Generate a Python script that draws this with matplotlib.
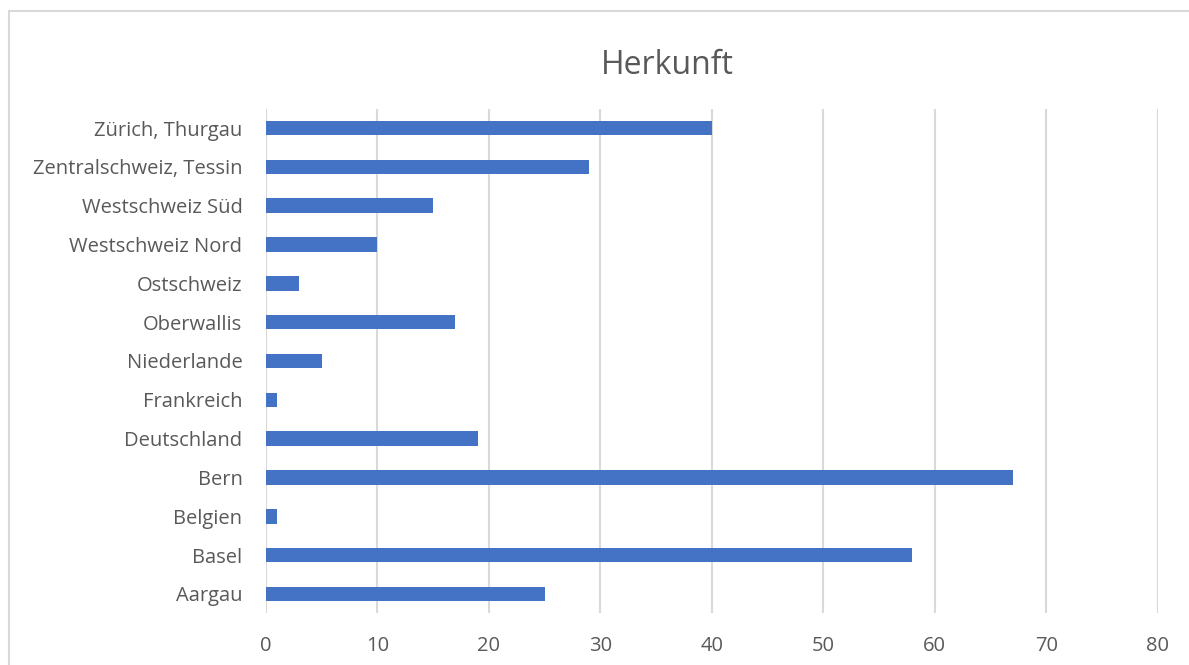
import matplotlib.pyplot as plt
from matplotlib.patches import Rectangle

regions = ["Aargau", "Basel", "Belgien", "Bern", "Deutschland", "Frankreich",
           "Niederlande", "Oberwallis", "Ostschweiz", "Westschweiz Nord",
           "Westschweiz Süd", "Zentralschweiz, Tessin", "Zürich, Thurgau"]
counts = [25, 58, 1, 67, 19, 1, 5, 17, 3, 10, 15, 29, 40]
xticks = [0, 10, 20, 30, 40, 50, 60, 70, 80]

TEXT = "#595959"
GRID = "#D9D9D9"
plt.rcParams['font.family'] = ['Open Sans', 'DejaVu Sans']

fig = plt.figure(figsize=(11.89, 6.65), dpi=100)
ax = fig.add_axes([266 / 1189, 1 - 613.4 / 665, 891.7 / 1189, 504.8 / 665])

ax.barh(range(len(regions)), counts, height=0.37, color="#4472C4", zorder=3)
ax.set_ylim(-0.5, len(regions) - 0.5)
ax.set_xlim(0, 80)
ax.set_xticks(xticks)
ax.set_yticks(range(len(regions)))
ax.set_yticklabels(regions)
ax.tick_params(length=0, labelsize=14.5, labelcolor=TEXT)
ax.tick_params(axis='x', pad=16)
ax.tick_params(axis='y', pad=17)
ax.grid(axis='x', color=GRID, linewidth=1.5, zorder=0)
for s in ax.spines.values():
    s.set_visible(False)

fig.text(667 / 1189, 1 - 66 / 665, "Herkunft", ha='center', va='center',
         fontsize=23, color=TEXT)

fig.add_artist(Rectangle((9 / 1189, -0.1), 1.2, 1.1 - 11 / 665, transform=fig.transFigure,
                         fill=False, edgecolor=GRID, linewidth=1.5))

fig.savefig("out.png", dpi=100)
